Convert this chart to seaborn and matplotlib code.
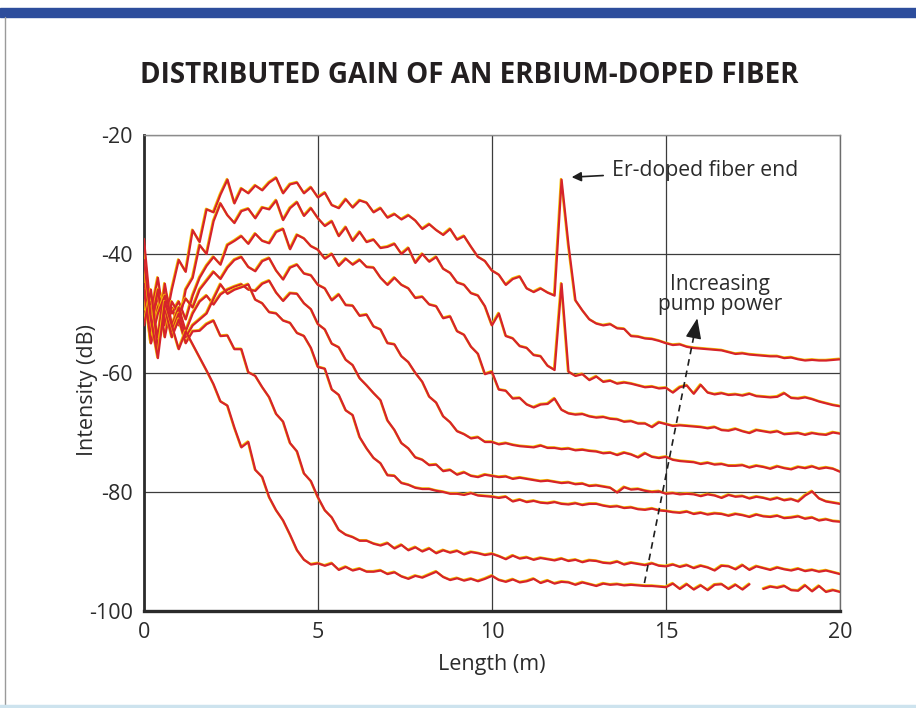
import numpy as np
import pandas as pd
import seaborn as sns
import matplotlib.pyplot as plt
import matplotlib.patheffects as pe
from matplotlib.patches import Rectangle
from matplotlib.lines import Line2D
from matplotlib.ticker import MultipleLocator

# sample positions along the fiber (m), 0.2 m step
length_m = np.round(np.arange(0, 20.01, 0.2), 1)

# OTDR traces, highest pump power first (dB)
pump_1 = [-37.5, -50, -44, -52, -46, -41, -43, -36, -38, -32.5,
          -33, -30, -27.5, -31.5, -29, -29.8, -28.5, -29.3, -28, -27.2,
          -29.8, -28.3, -28, -29.8, -28.8, -30.5, -29.7, -31.8, -32.3, -30.8,
          -32.2, -31, -31.4, -33, -32.3, -33.9, -33.3, -34.2, -33.5, -34.4,
          -35.8, -35, -36, -36.8, -35.8, -37.6, -37, -38.8, -40.5, -41.2,
          -42.8, -43.5, -45.2, -44.2, -43.8, -45.8, -46.4, -45.8, -46.5, -47,
          -27.5, -38.5, -47.8, -49.5, -51, -51.7, -52, -51.8, -52.5, -52.6,
          -53.8, -53.9, -54.2, -54.3, -54.6, -55, -55.3, -55.2, -55.6, -55.8,
          -55.9, -56, -56.1, -56.2, -56.5, -56.8, -56.7, -56.9, -57, -57.1,
          -57.2, -57.2, -57.5, -57.4, -57.7, -57.9, -57.8, -57.9, -57.9, -57.8,
          -57.7]
pump_2 = [-42, -53, -47, -51, -49, -52, -46, -44, -38.5, -40,
          -34.5, -31.5, -33.5, -34.8, -32.8, -32.4, -34, -32.2, -32.5, -31,
          -34.3, -32.3, -31.3, -33.6, -32.3, -34, -35.3, -34.5, -37, -35.5,
          -37.8, -36.3, -38, -37.6, -39, -38.8, -38.3, -40, -39, -41.5,
          -40, -41.3, -40.5, -42.5, -43.2, -44.8, -45.2, -46.6, -47, -48.8,
          -52, -50, -53.8, -54.2, -55.5, -55.8, -57, -57.2, -58.8, -59.5,
          -45, -59.8, -60.5, -60.2, -61.2, -60.6, -61.5, -61.3, -61.8, -61.6,
          -61.8, -62.1, -62.4, -62.3, -62.6, -62.5, -63.3, -62.4, -62.1, -63.5,
          -62, -63.3, -63.6, -63.4, -63.7, -63.6, -63.8, -63.5, -63.9, -64,
          -64.1, -64, -63.4, -64.2, -64.3, -64.1, -64.4, -64.8, -65.1, -65.4,
          -65.6]
pump_3 = [-45, -55, -49, -46, -50, -48, -51, -47, -44, -42,
          -40.5, -41.8, -38.5, -37.8, -37, -38.3, -36.6, -37.8, -38.2, -36.3,
          -35.8, -39.2, -36.8, -37.4, -38.7, -39.3, -40.8, -40, -42, -40.8,
          -41.8, -41, -42.2, -42.3, -44, -45.2, -44, -45.2, -45.8, -47.4,
          -47.2, -48.5, -48.8, -50.8, -50.5, -53, -53.6, -55.6, -56.8, -60.2,
          -59.8, -62.8, -63, -64.3, -64.2, -65.3, -65.8, -65.3, -65.2, -64.3,
          -66.2, -66.8, -67, -66.9, -67.3, -67.5, -67.4, -67.7, -67.8, -68.2,
          -68.1, -68.5, -68.5, -69.1, -68.3, -68.6, -68.9, -68.8, -68.9, -69,
          -69.1, -69.3, -69.1, -69.6, -69.7, -69.4, -69.8, -70.1, -69.6, -69.8,
          -70, -69.8, -70.3, -70.2, -70.1, -70.4, -70.1, -70.3, -70.4, -70,
          -70.2]
pump_4 = [-48, -52, -46, -54, -48, -50, -47.5, -49, -46, -44.5,
          -43, -44.2, -42.3, -41, -40.5, -42.2, -42.9, -41.2, -40.7, -42.8,
          -44.3, -42.3, -41.8, -43.3, -43.6, -45.2, -45.8, -47.8, -46.8, -48.6,
          -48.7, -50.4, -50.2, -52.2, -52.7, -55, -55.2, -57.2, -58.2, -60,
          -61.5, -64, -65, -67.3, -68.3, -69.8, -70.3, -71, -70.8, -71.6,
          -71.6, -72, -71.8, -72.1, -72.3, -72.4, -72.5, -72.2, -72.6, -72.6,
          -72.8, -72.7, -73, -72.9, -73.1, -73.2, -73.5, -73.4, -73.8, -73.4,
          -73.7, -74.2, -73.5, -74.1, -74.3, -74.1, -74.6, -74.8, -74.9, -75,
          -75.3, -75.1, -75.4, -75.3, -75.6, -75.6, -75.5, -75.9, -75.6, -75.8,
          -76.1, -75.7, -76, -76.2, -75.8, -76, -75.7, -76.1, -75.9, -76.1,
          -76.6]
pump_5 = [-50, -48, -54, -45, -52, -49, -53, -50, -48, -47,
          -48.5, -46.8, -46, -45.5, -45.1, -46, -46.2, -45, -44.5, -46.5,
          -47.9, -46.6, -46.7, -48.3, -49.3, -51.8, -52.7, -55.1, -55.7, -57.8,
          -58.7, -60.9, -62.1, -63.4, -64.6, -68, -69.6, -71.8, -72.7, -74.2,
          -74.6, -75.5, -75.4, -76.5, -76.3, -77.1, -76.7, -77.3, -77.5, -77.1,
          -77.3, -77.5, -77.4, -77.8, -77.6, -77.8, -78, -78.2, -78.1, -78.3,
          -78.5, -78.4, -78.7, -78.6, -79, -78.9, -79.1, -79.3, -80.1, -79.2,
          -79.6, -79.5, -79.8, -80, -79.9, -80.3, -80.2, -80.4, -80.3, -80.4,
          -80.7, -80.4, -80.6, -81, -80.5, -80.8, -80.7, -81.1, -80.8, -81,
          -81.3, -81, -81.4, -81.2, -81.6, -80.6, -79.9, -81.1, -81.6, -81.8,
          -82]
pump_6 = [-46, -55, -50, -47, -53, -50, -54, -52, -51, -50,
          -47.5, -45.1, -46.7, -46, -45.6, -45.1, -47.7, -48.3, -49.8, -50,
          -51.2, -51.6, -53.3, -53.8, -55.8, -59, -59.3, -62.8, -63.7, -66.3,
          -67.1, -70.8, -72.7, -74.3, -75.2, -77.2, -77.3, -78.5, -78.8, -79.3,
          -79.5, -79.5, -79.8, -80, -80.3, -80.3, -80.5, -80.2, -80.6, -80.7,
          -80.8, -81, -80.8, -81.6, -81.3, -81.7, -81.5, -81.8, -81.9, -81.7,
          -82, -82.1, -81.9, -82.2, -82, -82, -82.3, -82.5, -82.4, -82.7,
          -82.6, -82.9, -83, -82.8, -83.1, -83.2, -83.4, -83.5, -83.3, -83.7,
          -83.5, -83.8, -83.6, -83.7, -84, -83.7, -83.9, -84.2, -83.8, -84.1,
          -84.2, -84, -84.4, -84.3, -84.1, -84.5, -84.3, -84.8, -84.6, -84.9,
          -85]
pump_7 = [-52, -46, -56, -49, -54, -51, -55, -53, -52.9, -51.8,
          -51.2, -53.8, -53.7, -56, -56, -59.9, -60.5, -62.4, -64.1, -66.9,
          -68.2, -71.8, -73.2, -76.9, -78.2, -80.9, -83.1, -84.3, -86.4, -87.2,
          -87.6, -88.2, -88.2, -88.7, -89, -88.6, -89.5, -88.9, -89.8, -89.3,
          -90, -89.5, -90.3, -89.8, -90.2, -89.9, -90.5, -90.1, -90.3, -90.6,
          -90.4, -90.8, -91.3, -90.7, -91.2, -91, -91.4, -91.1, -91.3, -91.5,
          -91.2, -91.6, -91.4, -91.8, -91.5, -91.6, -91.9, -92, -91.7, -92.2,
          -91.9, -92.1, -92.3, -92, -92.4, -92.5, -92.2, -92.6, -92.3, -92.8,
          -92.4, -92.7, -93.2, -92.4, -92.5, -93, -92.3, -93.1, -92.5, -92.8,
          -93.1, -92.7, -93, -93.2, -92.9, -93.3, -93.1, -93.4, -93.2, -93.5,
          -93.8]
pump_8 = [-41, -51, -57.5, -48, -52, -56, -53, -55.2, -57.4, -59.6,
          -61.9, -64.8, -65.5, -69.2, -72.5, -71.6, -76.3, -77.5, -80.9, -83.1,
          -84.8, -87.2, -89.8, -91.4, -92.2, -92, -92.4, -92, -93.1, -92.6,
          -93.2, -92.9, -93.4, -93.4, -93.2, -93.8, -93.5, -94.2, -94.6, -94.1,
          -94.4, -93.9, -93.4, -94.3, -94.8, -94.5, -94.9, -94.6, -95, -94.6,
          -94.1, -94.8, -95.1, -94.7, -95.2, -95, -94.6, -95.3, -94.9, -95.4,
          -95.1, -95.2, -95.6, -95.2, -95.5, -95.8, -95.4, -95.6, -95.5, -95.7,
          -95.6, -95.7, -95.8, -95.8, -95.9, -96, -95.4, -96.3, -95.5, -96.4,
          -95.7, -96.5, -95.6, -95.5, -96.3, -95.6, -96.4, -95.5, np.nan, -96.3,
          -95.9, -96.1, -95.8, -96.5, -96.6, -95.7, -96.7, -95.8, -96.8, -96.5,
          -96.8]

traces = [pump_1, pump_2, pump_3, pump_4, pump_5, pump_6, pump_7, pump_8]

# long form table, a missing sample splits a trace into pieces
rows = []
for i, vals in enumerate(traces):
    seg = 0
    for x, y in zip(length_m, vals):
        if np.isnan(y):
            seg += 1
            continue
        rows.append((x, y, f"{i}_{seg}"))
df = pd.DataFrame(rows, columns=["length", "intensity", "trace"])

sns.set_style("white")
plt.rcParams["font.family"] = ["Open Sans", "DejaVu Sans"]
plt.rcParams["axes.unicode_minus"] = False
ink = "#2b2b2b"

fig = plt.figure(figsize=(9.16, 7.08), dpi=100)
ax = fig.add_axes([0.1572, 0.137, 0.7598, 0.6723])

# red trace with a thin yellow misregistration fringe on its upper side
fringe = [pe.SimpleLineShadow(offset=(-0.5, 0.5), shadow_color="#f3c300", alpha=1.0),
          pe.Normal()]
sns.lineplot(data=df, x="length", y="intensity", units="trace", estimator=None,
             sort=False, color="#d6232b", lw=1.6, path_effects=fringe,
             legend=False, ax=ax, zorder=3)

ax.set_xlim(0, 20)
ax.set_ylim(-100, -20)
ax.set_xticks([0, 5, 10, 15, 20])
ax.set_yticks([-100, -80, -60, -40, -20])
ax.yaxis.set_minor_locator(MultipleLocator(5))
ax.tick_params(which="major", length=0, labelsize=15.5, labelcolor=ink, pad=8)
ax.tick_params(axis="y", which="minor", direction="in", length=9, width=1.4,
               color=ink)
ax.grid(True, which="major", color="#3c3c3c", lw=0.9)

ax.spines["left"].set(color=ink, lw=2.0)
ax.spines["bottom"].set(color=ink, lw=2.4)
ax.spines["top"].set(color="#8c8c8c", lw=1.0)
ax.spines["right"].set(color="#6c6c6c", lw=1.0)

ax.set_xlabel("Length (m)", fontsize=15.5, color=ink, labelpad=8)
ax.set_ylabel("Intensity (dB)", fontsize=15.5, color=ink, labelpad=10)
ax.yaxis.set_label_coords(-0.066, 0.464)

# annotations
ax.annotate("Er-doped fiber end", xy=(12.25, -27.1), xytext=(13.45, -25.9),
            fontsize=15.3, color=ink, ha="left", va="center",
            arrowprops=dict(arrowstyle="-|>", color="#1e1e1e", lw=1.2,
                            mutation_scale=14, shrinkA=4, shrinkB=1))
ax.text(16.55, -46.8, "Increasing\npump power", fontsize=15, color=ink,
        ha="center", va="center", linespacing=0.92)
ax.plot([14.38, 15.80], [-95.3, -53.8], ls=(0, (4, 3)), color="#1e1e1e", lw=1.2,
        zorder=4)
ax.annotate("", xy=(15.9, -50.8), xytext=(15.80, -53.8),
            arrowprops=dict(arrowstyle="-|>,head_length=0.9,head_width=0.35",
                            color="#1e1e1e", lw=1, mutation_scale=14,
                            shrinkA=0, shrinkB=0), zorder=4)

fig.text(0.512, 0.894, "DISTRIBUTED GAIN OF AN ERBIUM-DOPED FIBER",
         ha="center", va="center", fontsize=20, fontweight="bold", color="#231f20")

# page frame: blue rule on top, thin rules left and bottom
fig.add_artist(Rectangle((0, 1 - 17 / 708), 1, 9 / 708, transform=fig.transFigure,
                         color="#2d4d9c", zorder=0))
fig.add_artist(Line2D([5 / 916, 5 / 916], [0.004, 1 - 17 / 708],
                      transform=fig.transFigure, color="#9a9a9a", lw=1))
fig.add_artist(Line2D([0, 1], [2 / 708, 2 / 708], transform=fig.transFigure,
                      color="#cde3ee", lw=2.5))

fig.savefig("out.png", dpi=100)
